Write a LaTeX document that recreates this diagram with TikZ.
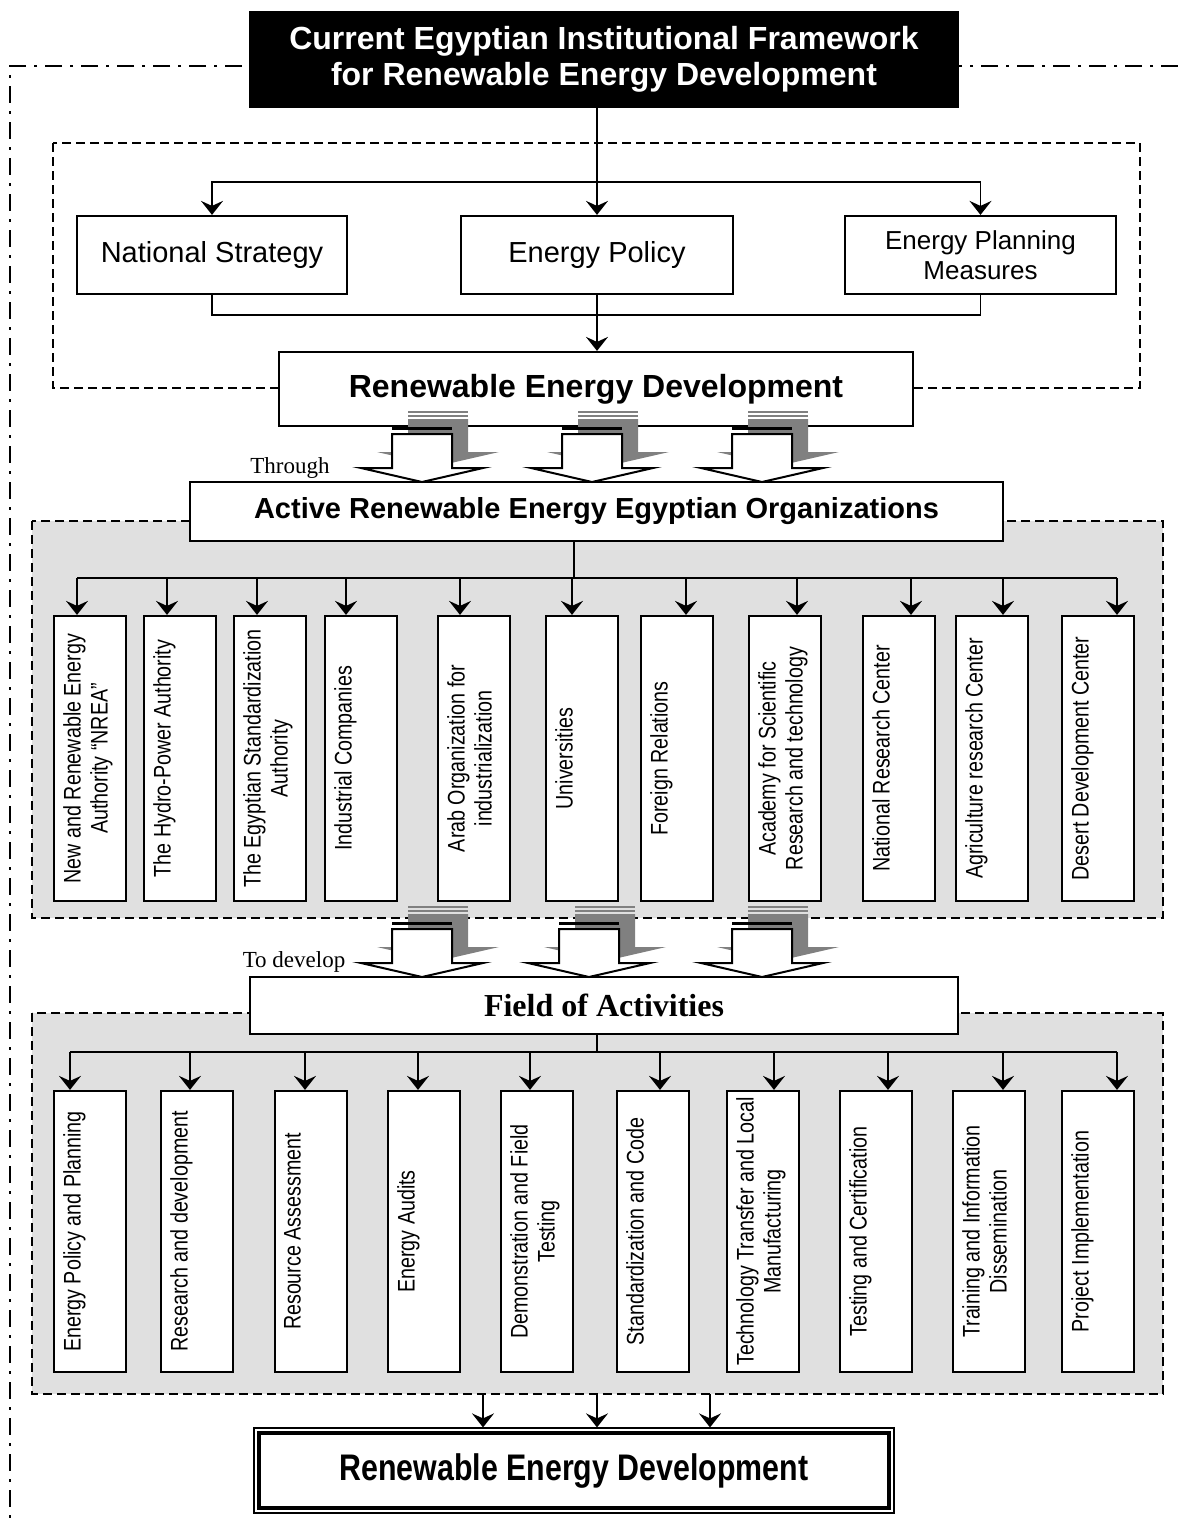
\documentclass[tikz,border=0pt]{standalone}
\usepackage{fontspec}
\setmainfont{Liberation Sans}
\newfontfamily\narrowsf[FakeStretch=0.82]{Liberation Sans}
\newfontfamily\serifrm{Liberation Serif}
\usetikzlibrary{arrows.meta,calc}

\definecolor{panelgray}{RGB}{224,224,224}
\definecolor{shadowgray}{RGB}{128,128,128}

\tikzset{
  box/.style={draw, line width=2.2pt, fill=white, inner sep=0pt, align=center},
  vbox/.style={box, minimum width=72pt, minimum height=285pt},
  vlabel/.style={rotate=90, anchor=north, align=center, inner sep=0pt,
    font=\narrowsf\fontsize{24}{27}\selectfont},
  arr/.style={line width=1.8pt, -{Stealth[length=14pt,width=22pt,inset=5pt]}},
  panel/.style={line width=2.6pt, dash pattern=on 9pt off 5pt},
}

% hollow block arrow with grey shadow, tip at (#1,#2)
\newcommand{\blockarrow}[2]{%
  \begin{scope}[shift={(#1,#2)}]
    \fill[shadowgray] (-14,-71) rectangle (46,-69);
    \fill[shadowgray] (-14,-67) rectangle (46,-65);
    \fill[shadowgray] (-14,-63) -- (46,-63) -- (46,-30) -- (77,-30) -- (16,-16)
      -- (-45,-30) -- (-14,-30) -- cycle;
    \fill (-30,-55) rectangle (30,-52);
    \draw[line width=2pt, fill=white] (-30,-48) -- (30,-48) -- (30,-14) -- (61,-14)
      -- (0,0) -- (-61,-14) -- (-30,-14) -- cycle;
  \end{scope}}

\begin{document}
\begin{tikzpicture}[x=1pt, y=-1pt]
  \useasboundingbox (0,0) rectangle (1178,1519);

  % Outer dash-dot frame
  \draw[line width=2.6pt, dash pattern=on 17pt off 8pt on 3pt off 8pt] (1178,66) -- (10,66) -- (10,1519);

  % Panels
  \draw[panel] (53,143) rectangle (1140,388);
  \draw[panel, fill=panelgray] (32,521) rectangle (1163,918);
  \draw[panel, fill=panelgray] (32,1013) rectangle (1163,1394);

  % Title
  \node[fill=black, text=white, minimum width=710pt, minimum height=97pt, align=center,
    font=\bfseries\fontsize{32}{36}\selectfont] (title) at (604,59)
    {Current Egyptian Institutional Framework\\for Renewable Energy Development};

  % Strategy, policy and planning
  \node[box, minimum width=270pt, minimum height=78pt, font=\fontsize{29}{33}\selectfont]
    (strategy) at (212,255) {National Strategy};
  \node[box, minimum width=272pt, minimum height=78pt, font=\fontsize{29}{33}\selectfont]
    (policy) at (597,255) {Energy Policy};
  \node[box, minimum width=271pt, minimum height=78pt, font=\fontsize{26}{30}\selectfont]
    (planning) at (980.5,255) {Energy Planning\\Measures};

  \node[box, minimum width=634pt, minimum height=74pt, font=\bfseries\fontsize{32}{36}\selectfont]
    (redev) at (596,389) {Renewable Energy Development};

  \coordinate (topbus) at (597,182);
  \draw[line width=1.8pt] (title.south -| policy.north) -- (topbus);
  \draw[arr] (topbus) -- (policy.north);
  \draw[arr] (topbus) -| (strategy.north);
  \draw[arr] (topbus) -| (planning.north);
  \draw[line width=1.8pt] (strategy.south) -- ++(0,20) -| (planning.south);
  \draw[arr] (policy.south) -- (policy.south |- redev.north);

  % Organizations
  \node[box, minimum width=813pt, minimum height=59pt, font=\bfseries\fontsize{29}{33}\selectfont]
    (active) at (596.5,511.5) {Active Renewable Energy Egyptian Organizations};

  \coordinate (orgbus) at (574,578);
  \coordinate (orgbusL) at (77,578);
  \coordinate (orgbusR) at (1117,578);
  \draw[line width=1.8pt] (active.south -| orgbus) -- (orgbus);
  \draw[line width=1.8pt] (orgbusL) -- (orgbusR);

  \foreach \i/\lx/\ax/\txt in {
      1/54/77/{New and Renewable Energy\\Authority “NREA”},
      2/144/167/{The Hydro-Power Authority},
      3/234/257/{The Egyptian Standardization\\Authority},
      4/325/346/{Industrial Companies},
      5/438/460/{Arab Organization for\\industrialization},
      6/546/572/{Universities},
      7/641/686/{Foreign Relations},
      8/749/797/{Academy for Scientific\\Research and technology},
      9/863/911/{National Research Center},
      10/956/1003/{Agriculture research Center},
      11/1062/1117/{Desert Development Center}} {
    \node[vbox] (org\i) at (\lx+36,758.5) {};
    \node[vlabel] (orgtxt\i) at (\lx+9,758.5) {\txt};
    \draw[arr] (\ax,578) -- (\ax,0 |- org\i.north);
  }

  % Activities
  \node[box, minimum width=708pt, minimum height=57pt,
    font=\serifrm\bfseries\fontsize{32}{36}\selectfont]
    (field) at (604,1005.5) {Field of Activities};

  \coordinate (actbus) at (597,1052);
  \coordinate (actbusL) at (70,1052);
  \coordinate (actbusR) at (1117,1052);
  \draw[line width=1.8pt] (field.south -| actbus) -- (actbus);
  \draw[line width=1.8pt] (actbusL) -- (actbusR);

  \foreach \i/\lx/\ax/\txt in {
      1/54/70/{Energy Policy and Planning},
      2/161/190/{Research and development},
      3/275/305/{Resource Assessment},
      4/388/418/{Energy Audits},
      5/501/530/{Demonstration and Field\\Testing},
      6/617/660/{Standardization and Code},
      7/727/774/{Technology Transfer and Local\\Manufacturing},
      8/840/888/{Testing and Certification},
      9/953/1003/{Training and Information\\Dissemination},
      10/1062/1117/{Project Implementation}} {
    \node[vbox, minimum height=281pt] (act\i) at (\lx+36,1231.5) {};
    \node[vlabel] (acttxt\i) at (\lx+9,1231.5) {\txt};
    \draw[arr] (\ax,1052) -- (\ax,0 |- act\i.north);
  }

  % Final result
  \node[draw, line width=1.2pt, fill=white, minimum width=640pt, minimum height=85pt,
    font=\narrowsf\bfseries\fontsize{37}{40}\selectfont]
    (result) at (574,1470.5) {Renewable Energy Development};
  \draw[line width=4pt] ($(result.north west)+(6,6)$) rectangle ($(result.south east)+(-6,-6)$);

  \foreach \ax in {483,597,710} {
    \coordinate (out\ax) at (\ax,1394);
    \draw[arr] (out\ax) -- (out\ax |- result.north);
  }

  % Block arrows
  \foreach \cx in {422,592,762} {\blockarrow{\cx}{482}}
  \foreach \cx in {422,589,762} {\blockarrow{\cx}{977}}

  \node[font=\serifrm\fontsize{23}{26}\selectfont] (through) at (290,468) {Through};
  \node[font=\serifrm\fontsize{23}{26}\selectfont] (todevelop) at (294,962) {To develop};
\end{tikzpicture}
\end{document}
